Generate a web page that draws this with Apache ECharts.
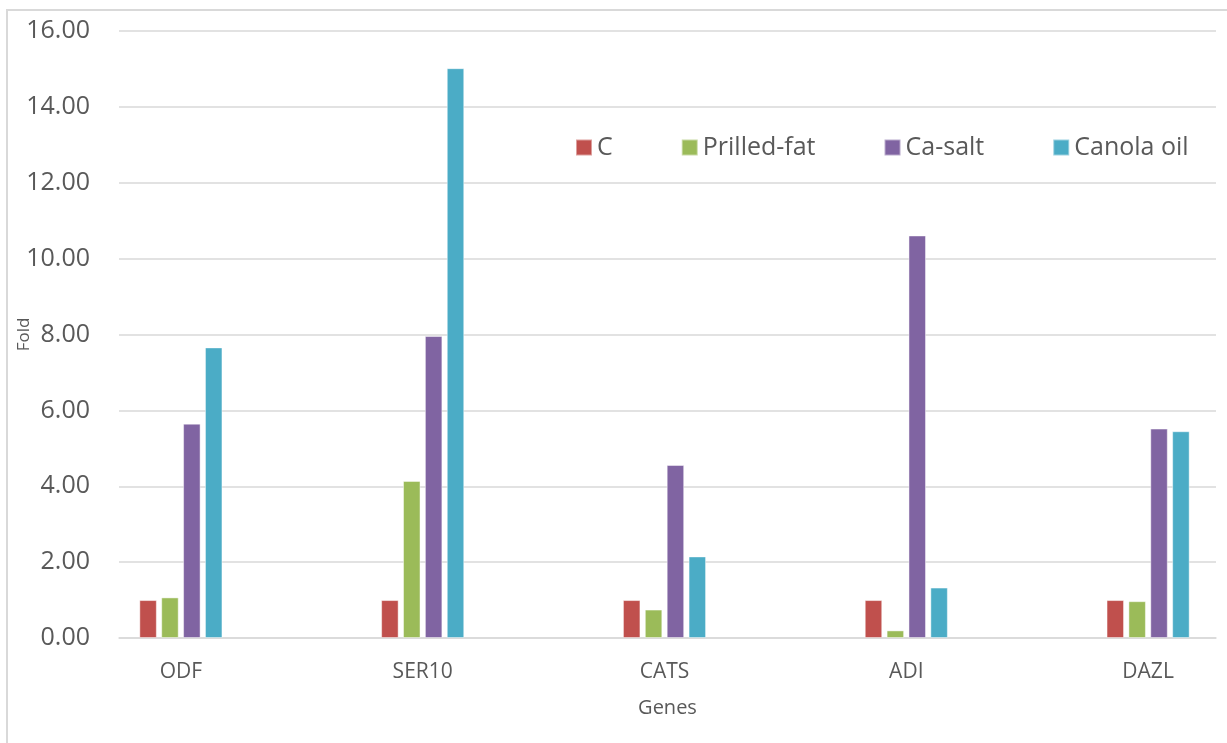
<!DOCTYPE html>
<html>
<head>
<meta charset="utf-8">
<script src="https://cdn.jsdelivr.net/npm/echarts@6/dist/echarts.min.js"></script>
<style>
  html, body { margin: 0; padding: 0; background: #ffffff; }
  #chart { width: 1227px; height: 743px; }
</style>
</head>
<body>
<div id="chart"></div>
<script>
// Relative expression (fold change) of genes per diet
const genes = ['ODF', 'SER10', 'CATS', 'ADI', 'DAZL'];
const seriesNames = ['C', 'Prilled-fat', 'Ca-salt', 'Canola oil'];
const valuesC = [1.00, 1.00, 1.00, 1.00, 1.00];
const valuesPrilled = [1.07, 4.14, 0.75, 0.20, 0.97];
const valuesCaSalt = [5.65, 7.96, 4.56, 10.61, 5.52];
const valuesCanola = [7.66, 15.02, 2.15, 1.33, 5.45];
const yTicks = { min: 0, max: 16, interval: 2 };

const colors = ['#C0504D', '#9BBB59', '#8064A2', '#4BACC6'];
const seriesValues = [valuesC, valuesPrilled, valuesCaSalt, valuesCanola];
const textGray = '#595959';
const gridGray = '#d9d9d9';
const font = '"Open Sans", "Noto Sans", sans-serif';

const chart = echarts.init(document.getElementById('chart'));

chart.setOption({
  backgroundColor: '#ffffff',
  animation: false,
  color: colors,
  graphic: [{
    type: 'rect',
    shape: { x: 7, y: 10, width: 1400, height: 900 },
    style: { fill: 'none', stroke: gridGray, lineWidth: 2 },
    silent: true
  }],
  legend: {
    data: seriesNames,
    left: 575,
    top: 135,
    padding: 0,
    icon: 'rect',
    itemWidth: 16,
    itemHeight: 16,
    itemGap: 68,
    textStyle: { fontFamily: font, fontSize: 25, color: textGray }
  },
  grid: [
    // frame grid: gridlines, value labels and axis titles
    { left: 119, right: 11, top: 31, bottom: 105, outerBoundsMode: 'none', containLabel: false },
    // bar grid: category slots laid out across the full width
    { left: 60, width: 1209, top: 31, bottom: 105, outerBoundsMode: 'none', containLabel: false }
  ],
  xAxis: [
    {
      gridIndex: 0,
      type: 'category',
      data: genes,
      name: 'Genes',
      nameLocation: 'middle',
      nameGap: 60,
      nameMoveOverlap: false,
      nameTextStyle: { fontFamily: font, fontSize: 20, color: textGray },
      axisLine: { lineStyle: { color: gridGray, width: 1.5 } },
      axisTick: { show: false },
      axisLabel: { show: false }
    },
    {
      gridIndex: 1,
      type: 'category',
      data: genes,
      axisLine: { show: false },
      axisTick: { show: false },
      axisLabel: { fontFamily: font, fontSize: 21, color: textGray, margin: 24 }
    }
  ],
  yAxis: [
    {
      gridIndex: 0,
      type: 'value',
      min: yTicks.min,
      max: yTicks.max,
      interval: yTicks.interval,
      name: 'Fold',
      nameLocation: 'middle',
      nameGap: 86,
      nameRotate: 90,
      nameMoveOverlap: false,
      nameTextStyle: { fontFamily: font, fontSize: 17, color: textGray },
      axisLine: { show: false },
      axisTick: { show: false },
      axisLabel: {
        fontFamily: font, fontSize: 25, color: textGray, margin: 29,
        formatter: v => v.toFixed(2)
      },
      splitLine: { lineStyle: { color: gridGray, width: 1.5 } }
    },
    {
      gridIndex: 1,
      type: 'value',
      min: yTicks.min,
      max: yTicks.max,
      interval: yTicks.interval,
      show: false,
      splitLine: { show: false }
    }
  ],
  series: seriesNames.map((name, i) => ({
    name: name,
    type: 'bar',
    xAxisIndex: 1,
    yAxisIndex: 1,
    data: seriesValues[i],
    barWidth: 17.5,
    barGap: '25%',
    itemStyle: {
      color: colors[i],
      borderColor: 'rgba(255,255,255,0.45)',
      borderWidth: 1
    }
  }))
});
</script>
</body>
</html>
